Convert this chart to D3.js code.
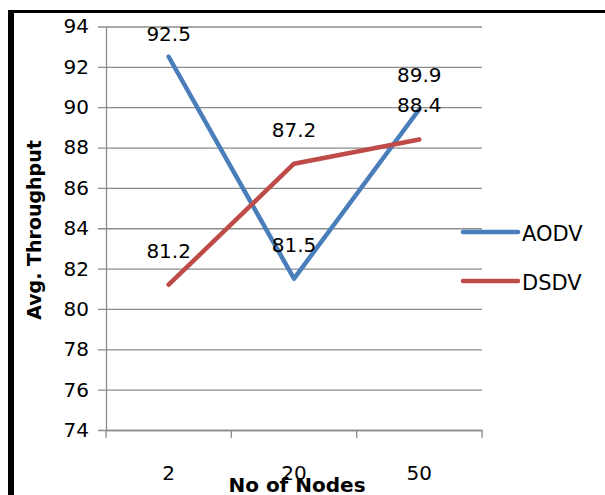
<!DOCTYPE html>
<html><head><meta charset="utf-8">
<script src="https://cdn.jsdelivr.net/npm/d3@7"></script>
<style>html,body{margin:0;padding:0;background:#fff;}svg{display:block;}</style>
</head><body>
<svg id="c" width="605" height="495"></svg>
<script>
const categories = ["2", "20", "50"];
const aodv = [92.5, 81.5, 89.9];
const dsdv = [81.2, 87.2, 88.4];
const seriesNames = ["AODV", "DSDV"];
const seriesColors = ["#4a7ebb", "#be4b48"];
const yTicks = [74, 76, 78, 80, 82, 84, 86, 88, 90, 92, 94];

(function () {
const svg = d3.select("#c");
const FONT = "'DejaVu Sans', sans-serif";
const pL = 106, pR = 482, pT = 26.5, pB = 430;

const x = d3.scaleBand().domain(categories).range([pL, pR]);
const y = d3.scaleLinear().domain([74, 94]).range([pB, pT]);

// border
svg.append("rect").attr("x", 8).attr("y", 10).attr("width", 597).attr("height", 3).attr("fill", "#000");
svg.append("rect").attr("x", 8).attr("y", 10).attr("width", 6).attr("height", 485).attr("fill", "#000");

// gridlines + y axis
const yAxis = d3.axisLeft(y).tickValues(yTicks).tickSize(-(pR - pL)).tickSizeOuter(0).tickPadding(17);
const gy = svg.append("g").attr("transform", `translate(${pL},0)`).call(yAxis);
gy.select(".domain").attr("stroke", "#8c8c8c").attr("stroke-width", 1.3);
gy.selectAll(".tick line").attr("stroke", "#8c8c8c").attr("stroke-width", 1.3).attr("x1", -8);
gy.selectAll(".tick text").attr("font-family", FONT).attr("font-size", 20).attr("fill", "#000");

// x axis
const xAxis = d3.axisBottom(x).tickSize(0).tickSizeOuter(0);
const gx = svg.append("g").attr("transform", `translate(0,${pB})`).call(xAxis);
gx.select(".domain").attr("stroke", "#8c8c8c").attr("stroke-width", 1.3);
gx.selectAll(".tick text").attr("font-family", FONT).attr("font-size", 20).attr("fill", "#000")
  .attr("dy", null).attr("y", 50);
// category boundary tick marks
const bounds = categories.map(c => x(c)).concat([x(categories[categories.length - 1]) + x.bandwidth()]);
svg.append("g").selectAll("line").data(bounds).join("line")
  .attr("x1", d => d).attr("x2", d => d).attr("y1", pB).attr("y2", pB + 8)
  .attr("stroke", "#8c8c8c").attr("stroke-width", 1.3);

// lines
const all = [aodv, dsdv];
const line = d3.line().x((d, i) => x(categories[i]) + x.bandwidth() / 2).y(d => y(d));
all.forEach((s, k) => {
  svg.append("path").datum(s).attr("d", line).attr("fill", "none")
    .attr("stroke", seriesColors[k]).attr("stroke-width", 4.5)
    .attr("stroke-linejoin", "round").attr("stroke-linecap", "round");
});

// data labels
all.forEach((s, k) => {
  svg.append("g").selectAll("text").data(s).join("text")
    .attr("x", (d, i) => x(categories[i]) + x.bandwidth() / 2)
    .attr("y", d => Math.max(y(d) - 27, pT + 14))
    .attr("text-anchor", "middle").attr("font-family", FONT).attr("font-size", 20).attr("fill", "#000")
    .text(d => d.toFixed(1));
});

// legend
seriesNames.forEach((n, k) => {
  const ly = 232 + k * 49;
  svg.append("line").attr("x1", 463).attr("x2", 518).attr("y1", ly).attr("y2", ly)
    .attr("stroke", seriesColors[k]).attr("stroke-width", 4.5).attr("stroke-linecap", "round");
  svg.append("text").attr("x", 522).attr("y", ly + 9).attr("font-family", FONT).attr("font-size", 21)
    .attr("fill", "#000").text(n);
});

// axis titles
svg.append("text").attr("x", 297).attr("y", 492).attr("text-anchor", "middle")
  .attr("font-family", FONT).attr("font-weight", "bold").attr("font-size", 20).attr("fill", "#000")
  .text("No of Nodes");
svg.append("text").attr("transform", "translate(41,230) rotate(-90)").attr("text-anchor", "middle")
  .attr("font-family", FONT).attr("font-weight", "bold").attr("font-size", 19).attr("fill", "#000")
  .text("Avg. Throughput");
})();
</script>
</body></html>
